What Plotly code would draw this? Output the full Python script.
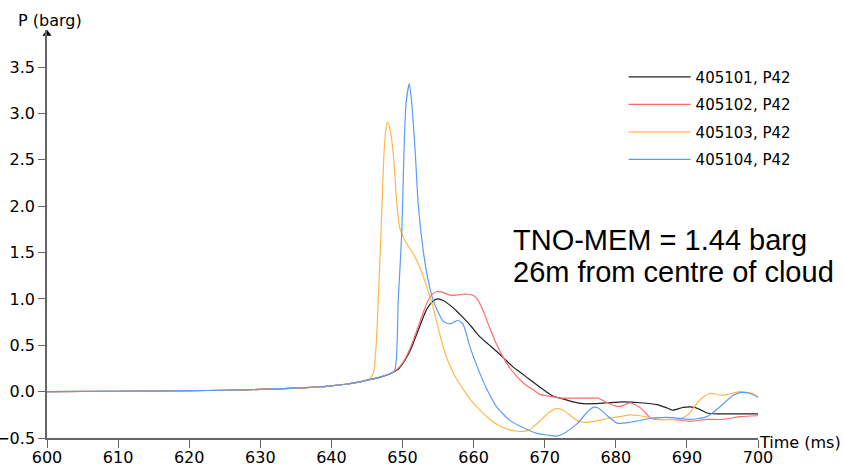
import plotly.graph_objects as go

# common pre-rise baseline (all four gauges overlap)
base_t = [600, 610, 620, 625, 630, 635, 638, 640, 642, 644, 645, 646, 647, 648]
base_p = [0.0, 0.004, 0.01, 0.015, 0.024, 0.038, 0.05, 0.063, 0.08, 0.105, 0.125, 0.14, 0.16, 0.185]

t_101 = base_t + [648.7, 649.5, 650.1, 650.8, 651.5, 652.2, 652.9, 653.5, 654.2, 654.9, 655.8, 656.7, 657.6,
                  658.5, 659.7, 660.9, 662.1, 663.3, 664.4, 665.5, 666.7, 667.9, 669.3, 670.2, 671.2, 672.2,
                  674.0, 675.4, 676.8, 678.8, 681.0, 683.4, 685.8, 687.0, 688.0, 689.5, 691.1, 692.0, 692.8,
                  694.2, 697.0, 700.0]
p_101 = base_p + [0.21, 0.25, 0.31, 0.40, 0.52, 0.66, 0.80, 0.90, 0.97, 1.0, 0.98, 0.93, 0.87,
                  0.80, 0.70, 0.59, 0.51, 0.43, 0.35, 0.27, 0.20, 0.13, 0.05, 0.0, -0.05, -0.07,
                  -0.11, -0.13, -0.13, -0.12, -0.11, -0.12, -0.14, -0.17, -0.20, -0.17, -0.17, -0.20, -0.23,
                  -0.24, -0.24, -0.24]

t_102 = base_t + [648.7, 649.5, 650.1, 650.8, 651.5, 652.2, 652.9, 653.5, 654.3, 654.9, 655.7, 656.7, 657.6,
                  658.5, 659.1, 659.9, 660.5, 661.3, 662.3, 663.3, 664.7, 666.0, 667.2, 668.4, 669.3, 670.7,
                  672.2, 674.0, 676.4, 677.5, 678.8, 680.2, 681.0, 682.0, 683.4, 684.2, 684.8, 685.6, 688.0,
                  690.4, 692.8, 695.0, 697.5, 700.0]
p_102 = base_p + [0.21, 0.26, 0.32, 0.42, 0.55, 0.70, 0.85, 0.97, 1.06, 1.08, 1.07, 1.04, 1.04,
                  1.05, 1.05, 1.04, 1.0, 0.88, 0.68, 0.50, 0.30, 0.17, 0.08, 0.02, -0.03, -0.05,
                  -0.07, -0.07, -0.07, -0.07, -0.12, -0.16, -0.15, -0.12, -0.17, -0.23, -0.28, -0.30, -0.30,
                  -0.32, -0.30, -0.30, -0.27, -0.26]

t_103 = base_t[:-3] + [645.4, 645.9, 646.3, 646.7, 647.1, 647.4, 647.7, 647.9, 648.2, 648.7, 649.2, 649.6, 650.1,
                       650.8, 651.5, 652.5, 653.4, 654.3, 655.3, 656.3, 657.5, 658.5, 659.5, 660.9, 662.3,
                       663.7, 665.0, 666.5, 667.5, 668.4, 669.3, 670.5, 671.7, 672.6, 673.5, 674.5, 675.4,
                       677.0, 678.8, 680.5, 682.0, 683.4, 684.8, 686.2, 688.6, 689.5, 690.4, 691.8, 693.2,
                       695.0, 696.3, 697.5, 699.3, 700.0]
p_103 = base_p[:-3] + [0.14, 0.2, 0.5, 1.2, 1.95, 2.57, 2.85, 2.91, 2.85, 2.57, 2.03, 1.77, 1.67,
                       1.57, 1.49, 1.33, 1.13, 0.91, 0.60, 0.35, 0.15, 0.03, -0.08, -0.20, -0.30,
                       -0.37, -0.41, -0.43, -0.42, -0.38, -0.32, -0.23, -0.18, -0.20, -0.25, -0.31, -0.33,
                       -0.32, -0.29, -0.27, -0.25, -0.26, -0.28, -0.30, -0.30, -0.28, -0.23, -0.09, -0.02,
                       -0.04, -0.02, 0.0, -0.02, -0.06]

t_104 = base_t + [648.9, 649.4, 649.9, 650.2, 650.5, 650.96, 651.3, 651.8, 652.2, 652.9, 653.6, 654.3,
                  655.0, 655.7, 656.7, 657.8, 658.5, 659.5, 660.5, 661.9, 663.3, 665.1, 667.0, 668.9,
                  670.5, 671.5, 672.5, 674.5, 676.0, 676.8, 677.6, 678.8, 680.2, 682.0, 684.8, 686.2,
                  688.0, 690.4, 692.8, 694.7, 696.5, 697.5, 698.9, 700.0]
p_104 = base_p + [0.23, 0.99, 1.71, 2.57, 3.11, 3.32, 3.11, 2.57, 2.03, 1.53, 1.20, 0.99,
                  0.86, 0.76, 0.73, 0.77, 0.73, 0.48, 0.27, 0.02, -0.17, -0.31, -0.39, -0.45,
                  -0.47, -0.48, -0.46, -0.35, -0.22, -0.17, -0.18, -0.26, -0.34, -0.33, -0.29, -0.28,
                  -0.28, -0.30, -0.27, -0.16, -0.04, -0.01, -0.02, -0.06]

series = [
    ("405101, P42", t_101, p_101, "#222222"),
    ("405102, P42", t_102, p_102, "#ff6b6b"),
    ("405103, P42", t_103, p_103, "#ffb84d"),
    ("405104, P42", t_104, p_104, "#5b9bf5"),
]

x_ticks = list(range(600, 701, 10))
y_ticks = [-0.5, 0.0, 0.5, 1.0, 1.5, 2.0, 2.5, 3.0, 3.5]

fig = go.Figure()
for name, t, p, c in series:
    fig.add_trace(go.Scatter(x=t, y=p, mode="lines", name=name, legendgroup=name,
                             line=dict(color=c, width=1.2, shape="spline", smoothing=0.6)))

# axis arrow heads
fig.add_trace(go.Scatter(x=[600], y=[3.86], mode="markers", showlegend=False, cliponaxis=False,
                         marker=dict(symbol="triangle-up", size=8, color="#000000"), hoverinfo="skip"))
fig.add_trace(go.Scatter(x=[700.2], y=[-0.5], mode="markers", showlegend=False, cliponaxis=False,
                         marker=dict(symbol="triangle-right", size=8, color="#000000"), hoverinfo="skip"))

axis_font = dict(family="DejaVu Sans", size=16, color="#000000")
fig.update_layout(
    width=844, height=469,
    margin=dict(l=47, r=86, t=30, b=31, autoexpand=False),
    paper_bgcolor="white", plot_bgcolor="white",
    font=axis_font,
    showlegend=True,
    legend=dict(x=0.811, y=0.925, xanchor="left", yanchor="top", bgcolor="rgba(0,0,0,0)",
                font=dict(family="DejaVu Sans", size=15, color="#000000"), itemwidth=62,
                tracegroupgap=5),
    xaxis=dict(range=[600, 700], tickvals=x_ticks, showgrid=False, zeroline=False, automargin=False,
               showline=True, linecolor="#666666", linewidth=1.5, ticks="outside", ticklen=8,
               ticklabelstandoff=-4,
               tickcolor="#666666", tickfont=axis_font),
    yaxis=dict(range=[-0.5, 3.9], tickvals=y_ticks, tickformat=".1f", showgrid=False, zeroline=False,
               automargin=False,
               showline=True, linecolor="#666666", linewidth=1.5, ticks="outside", ticklen=7,
               tickcolor="#666666", tickfont=axis_font),
    annotations=[
        dict(text="P (barg)", xref="paper", yref="paper", x=-0.044, y=1.0, xanchor="left",
             yanchor="bottom", showarrow=False, yshift=-2, font=axis_font),
        dict(text="Time (ms)", xref="paper", yref="paper", x=0.999, y=0.0, xanchor="left",
             yanchor="middle", showarrow=False, yshift=-4, font=axis_font),
        dict(text="TNO-MEM = 1.44 barg", xref="paper", yref="paper", x=0.652, y=(438 - 240) / 408,
             xanchor="left", yanchor="middle", showarrow=False,
             font=dict(family="Liberation Sans", size=29, color="#000000")),
        dict(text="26m from centre of cloud", xref="paper", yref="paper", x=0.652, y=(438 - 272) / 408,
             xanchor="left", yanchor="middle", showarrow=False,
             font=dict(family="Liberation Sans", size=29, color="#000000")),
    ],
)

fig.write_html("out.html", config={"displayModeBar": False},
               post_script="document.body.style.margin='0px';document.body.style.overflow='hidden';")
